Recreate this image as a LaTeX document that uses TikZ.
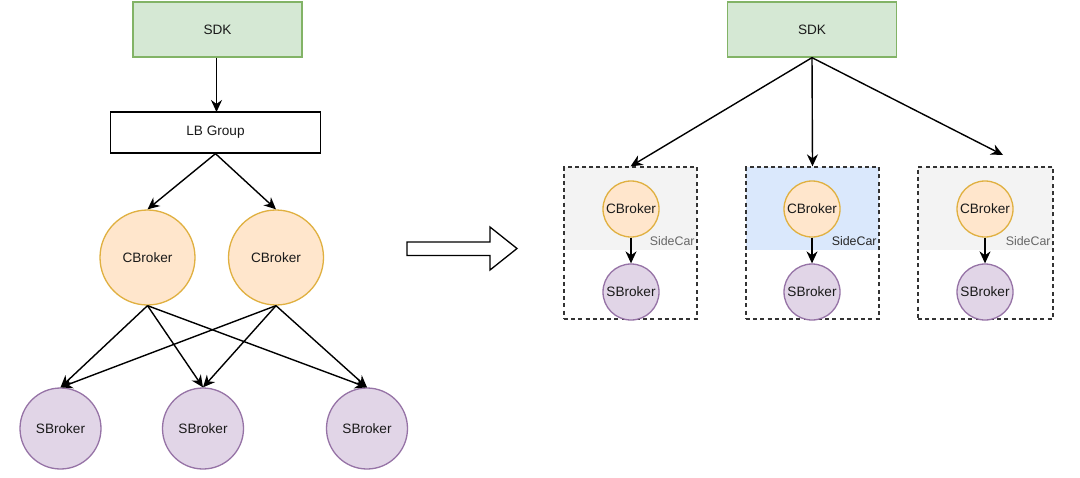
\documentclass[tikz,border=0pt]{standalone}
\usepackage{fontspec}
\setmainfont{Liberation Sans}
\usetikzlibrary{arrows.meta}
\definecolor{sdkfill}{HTML}{D5E8D4}
\definecolor{sdkline}{HTML}{82B366}
\definecolor{cfill}{HTML}{FFE6CC}
\definecolor{cline}{HTML}{E0B040}
\definecolor{sfill}{HTML}{E1D5E7}
\definecolor{sline}{HTML}{9673A6}
\definecolor{grayfill}{HTML}{F3F3F3}
\definecolor{bluefill}{HTML}{DAE8FC}
\definecolor{txt}{HTML}{1A1A1A}
\tikzset{
  base/.style={inner sep=0pt, line width=0.65pt, font=\fontsize{6.8}{8}\selectfont, text=txt},
  sdkbox/.style={base, draw=sdkline, fill=sdkfill, minimum width=84.5pt, minimum height=27.5pt},
  lbbox/.style={base, draw=black, fill=white, minimum width=105pt, minimum height=20.5pt},
  cbig/.style={base, circle, draw=cline, fill=cfill, minimum size=47.5pt},
  sbig/.style={base, circle, draw=sline, fill=sfill, minimum size=40.5pt},
  csmall/.style={base, circle, draw=cline, fill=cfill, minimum size=28pt},
  ssmall/.style={base, circle, draw=sline, fill=sfill, minimum size=28pt},
  sidebox/.style={inner sep=0pt, draw=black!80, line width=0.65pt, dash pattern=on 2pt off 1.6pt, minimum width=66.5pt, minimum height=76pt},
  sclabel/.style={inner sep=0pt, anchor=east, font=\fontsize{6.2}{7}\selectfont},
  conn/.style={line width=0.7pt, -{Stealth[length=6pt,width=5.5pt]}}
}
\begin{document}
\begin{tikzpicture}[x=0.5pt,y=-0.5pt]
\useasboundingbox[fill=white] (0,0) rectangle (1080,477);
% ---------- left ----------
\node[sdkbox] (sdkL) at (217.5,29.5) {SDK};
\node[lbbox] (lb) at (215.5,132.5) {LB Group};
\node[cbig] (cb1) at (147.5,257.5) {CBroker};
\node[cbig] (cb2) at (276,257.5) {CBroker};
\node[sbig] (sb1) at (60.5,428.5) {SBroker};
\node[sbig] (sb2) at (203,428.5) {SBroker};
\node[sbig] (sb3) at (367,428.5) {SBroker};
\coordinate (lbtop) at (216.5,112);
\draw[conn] (sdkL.south -| lbtop) -- (lbtop);
\draw[conn] (lb.south) -- (cb1.north);
\draw[conn] (lb.south) -- (cb2.north);
\foreach \c in {cb1,cb2}{
  \foreach \s in {sb1,sb2,sb3}{
    \draw[conn] (\c.south) -- (\s.north);
  }
}
% ---------- big arrow ----------
\draw[line width=0.65pt, fill=white] (407,242) -- (490,242) -- (490,227) -- (517,248.5) -- (490,270) -- (490,255.5) -- (407,255.5) -- cycle;
% ---------- right ----------
\fill[grayfill] (564,167) rectangle (697,250);
\fill[bluefill] (746,167) rectangle (879,250);
\fill[grayfill] (918,167) rectangle (1053,250);
\node[sidebox] (box1) at (630.5,243) {};
\node[sidebox] (box2) at (812.5,243) {};
\node[sidebox, minimum width=67.5pt] (box3) at (985.5,243) {};
\node[sclabel, text=black!60] (sc1) at (695,241) {SideCar};
\node[sclabel, text=black!85] (sc2) at (877,241) {SideCar};
\node[sclabel, text=black!60] (sc3) at (1051,241) {SideCar};
\node[sdkbox] (sdkR) at (812,29.5) {SDK};
\node[csmall] (rc1) at (631,209) {CBroker};
\node[ssmall] (rs1) at (631,292) {SBroker};
\node[csmall] (rc2) at (812,209) {CBroker};
\node[ssmall] (rs2) at (812,292) {SBroker};
\node[csmall] (rc3) at (985,209) {CBroker};
\node[ssmall] (rs3) at (985,292) {SBroker};
\coordinate (end3) at (1003,155);
\draw[conn] (sdkR.south) -- (box1.north);
\draw[conn] (sdkR.south) -- (box2.north);
\draw[conn] (sdkR.south) -- (end3);
\draw[conn] (rc1) -- (rs1);
\draw[conn] (rc2) -- (rs2);
\draw[conn] (rc3) -- (rs3);
\end{tikzpicture}
\end{document}
